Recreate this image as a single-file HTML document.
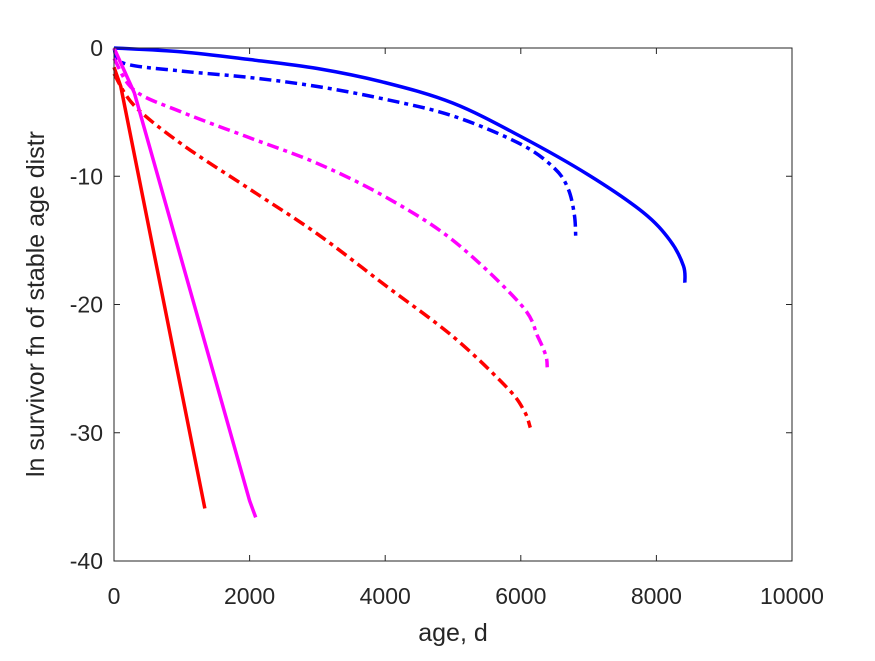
<!DOCTYPE html>
<html><head><meta charset="utf-8"><style>
body{margin:0;background:#fff;}
text{font-family:"Liberation Sans",Arial,sans-serif;fill:#262626;}
</style></head><body>
<svg width="875" height="656" viewBox="0 0 875 656">
<rect width="875" height="656" fill="#fff"/>
<g id="plot"></g>
<g id="axes"></g>
<text x="453" y="641" font-size="25" text-anchor="middle">age, d</text>
<text transform="translate(44,304) rotate(-90)" font-size="25" text-anchor="middle">ln survivor fn of stable age distr</text>
</svg>
<script>
const xTicks=[0,2000,4000,6000,8000,10000];
const yTicks=[0,-10,-20,-30,-40];
const blueSolidX=[0,1000,2000,3000,4000,5000,6000,7000,7800,8200,8400,8420];
const blueSolidY=[0,-0.3,-0.9,-1.6,-2.7,-4.3,-6.9,-9.9,-12.8,-15,-17,-18.3];
const blueDashX=[0,150,1000,2000,3000,4000,5000,6000,6500,6700,6790,6810];
const blueDashY=[0,-1.2,-1.8,-2.3,-3.0,-4.0,-5.3,-7.5,-9.4,-11,-13,-14.7];
const magDashX=[0,300,1000,2000,3000,4000,5000,6000,6250,6370,6390];
const magDashY=[-0.8,-3.3,-5,-7,-9,-11.6,-15,-20,-22.5,-24,-24.9];
const redDashX=[0,300,1000,2000,3000,4000,5000,5800,6050,6140];
const redDashY=[-2,-4.5,-7.5,-11,-14.5,-18.5,-22.5,-26.5,-28.3,-29.6];
const magSolidX=[0,300,2000,2090];
const magSolidY=[0,-3.5,-35.3,-36.6];
const redSolidX=[0,100,1340];
const redSolidY=[-1.5,-3,-35.9];
const X0=114,X1=792,Y0=48,Y1=561;
const sx=v=>X0+(v/10000)*(X1-X0);
const sy=v=>Y0+(-v/40)*(Y1-Y0);
const NS="http://www.w3.org/2000/svg";
const plot=document.getElementById('plot'),axes=document.getElementById('axes');
function smoothPath(xs,ys){
  const P=xs.map((x,i)=>[sx(x),sy(ys[i])]);
  let d='M'+P[0][0]+','+P[0][1];
  for(let i=0;i<P.length-1;i++){
    const p0=P[Math.max(0,i-1)],p1=P[i],p2=P[i+1],p3=P[Math.min(P.length-1,i+2)];
    const c1=[p1[0]+(p2[0]-p0[0])/6,p1[1]+(p2[1]-p0[1])/6];
    const c2=[p2[0]-(p3[0]-p1[0])/6,p2[1]-(p3[1]-p1[1])/6];
    d+=` C${c1[0]},${c1[1]} ${c2[0]},${c2[1]} ${p2[0]},${p2[1]}`;
  }
  return d;
}
function line(xs,ys,color,dash,name,smooth){
  const p=document.createElementNS(NS,'path');
  p.setAttribute('d',smooth?smoothPath(xs,ys):'M'+xs.map((x,i)=>sx(x)+','+sy(ys[i])).join(' L'));
  p.setAttribute('fill','none');p.setAttribute('stroke',color);p.setAttribute('stroke-width','3.5');
  if(dash)p.setAttribute('stroke-dasharray',dash);
  
  
  plot.appendChild(p);
}
line(blueSolidX,blueSolidY,'#0000ff',null,'blue-solid-line',true);
line(blueDashX,blueDashY,'#0000ff','12,5,4,5','blue-dashdot-line',true);
line(magDashX,magDashY,'#ff00ff','12,5,4,5','magenta-dashdot-line',true);
line(redDashX,redDashY,'#ff0000','12,5,4,5','red-dashdot-line',true);
line(magSolidX,magSolidY,'#ff00ff',null,'magenta-solid-line',false);
line(redSolidX,redSolidY,'#ff0000',null,'red-solid-line',false);
const box=document.createElementNS(NS,'rect');
box.setAttribute('x',X0);box.setAttribute('y',Y0);box.setAttribute('width',X1-X0);box.setAttribute('height',Y1-Y0);
box.setAttribute('fill','none');box.setAttribute('stroke','#262626');box.setAttribute('stroke-width','1');


axes.appendChild(box);
xTicks.forEach(t=>{
  const x=sx(t);
  const l=document.createElementNS(NS,'path');
  l.setAttribute('d',`M${x},${Y1}v-6M${x},${Y0}v6`);l.setAttribute('stroke','#262626');
  
  
  axes.appendChild(l);
  const tx=document.createElementNS(NS,'text');
  tx.setAttribute('x',x);tx.setAttribute('y',604);tx.setAttribute('font-size','23');tx.setAttribute('text-anchor','middle');
  tx.textContent=t;
  
  
  axes.appendChild(tx);
});
yTicks.forEach(t=>{
  const y=sy(t);
  const l=document.createElementNS(NS,'path');
  l.setAttribute('d',`M${X0},${y}h6M${X1},${y}h-6`);l.setAttribute('stroke','#262626');
  
  
  axes.appendChild(l);
  const tx=document.createElementNS(NS,'text');
  tx.setAttribute('x',103);tx.setAttribute('y',y+8);tx.setAttribute('font-size','23');tx.setAttribute('text-anchor','end');
  tx.textContent=t;
  
  
  axes.appendChild(tx);
});
</script>
</body></html>
